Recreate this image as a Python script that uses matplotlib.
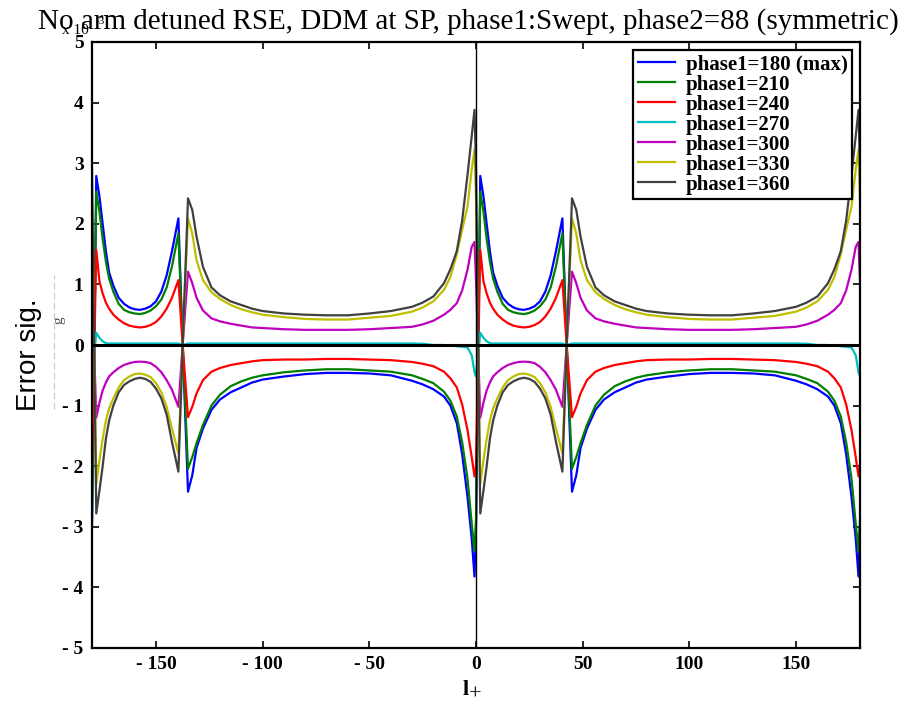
import numpy as np
import matplotlib
matplotlib.use('Agg')
import matplotlib.pyplot as plt

# one period of the sweep (0..180), the same shape repeats over -180..0
x_period = [0, 2, 3.5, 5, 6.5, 8, 10, 12.5, 15, 17.5, 20, 22.5, 25, 27.5, 30,
            32.5, 35, 37.5, 40.5, 42.5, 45, 47, 49, 52, 56, 60, 65, 70, 75, 80,
            90, 100, 110, 120, 130, 140, 150, 155, 160, 165, 168, 171, 173.5,
            176, 178, 179.3]

err_180 = [-3.0, 2.79, 2.45, 2.0, 1.55, 1.2, 0.98, 0.78, 0.68, 0.62, 0.59, 0.58,
           0.60, 0.64, 0.72, 0.88, 1.15, 1.55, 2.09, 0.0, -2.42, -2.15, -1.70,
           -1.38, -1.07, -0.90, -0.78, -0.70, -0.62, -0.57, -0.52, -0.48, -0.46,
           -0.46, -0.47, -0.50, -0.59, -0.65, -0.73, -0.85, -1.0, -1.29, -1.8,
           -2.5, -3.2, -3.82]
err_210 = [-2.89, 2.53, 2.2, 1.75, 1.38, 1.1, 0.88, 0.68, 0.58, 0.54, 0.52, 0.51,
           0.53, 0.57, 0.64, 0.75, 0.95, 1.30, 1.84, 0.0, -2.04, -1.85, -1.62,
           -1.32, -1.0, -0.82, -0.68, -0.60, -0.54, -0.50, -0.45, -0.42, -0.40,
           -0.40, -0.42, -0.44, -0.50, -0.56, -0.63, -0.77, -0.92, -1.18, -1.6,
           -2.2, -2.95, -3.4]
err_240 = [-2.0, 1.57, 1.05, 0.85, 0.70, 0.60, 0.50, 0.42, 0.36, 0.32, 0.30, 0.29,
           0.30, 0.33, 0.38, 0.47, 0.60, 0.78, 1.07, 0.0, -1.19, -1.02, -0.80,
           -0.58, -0.44, -0.38, -0.33, -0.30, -0.27, -0.25, -0.24, -0.24, -0.23,
           -0.23, -0.24, -0.25, -0.28, -0.31, -0.35, -0.44, -0.55, -0.70, -0.98,
           -1.40, -1.85, -2.17]
err_270 = [-0.52, 0.20, 0.12, 0.06, 0.03, 0.025, 0.025, 0.025, 0.025, 0.025, 0.025,
           0.025, 0.025, 0.025, 0.025, 0.025, 0.025, 0.025, 0.025, 0.0, 0.025,
           0.025, 0.025, 0.025, 0.025, 0.025, 0.025, 0.025, 0.025, 0.025, 0.025,
           0.025, 0.025, 0.025, 0.025, 0.025, 0.025, 0.02, 0.0, 0.0, -0.01, -0.02,
           -0.03, -0.04, -0.17, -0.45]
err_300 = [1.07, -1.20, -0.95, -0.75, -0.62, -0.52, -0.45, -0.38, -0.33, -0.30,
           -0.28, -0.275, -0.28, -0.30, -0.36, -0.45, -0.58, -0.74, -1.02, 0.0,
           1.21, 1.02, 0.78, 0.57, 0.44, 0.39, 0.35, 0.32, 0.29, 0.28, 0.26, 0.25,
           0.25, 0.25, 0.26, 0.28, 0.30, 0.34, 0.40, 0.50, 0.58, 0.69, 0.90, 1.24,
           1.62, 1.70]
err_330 = [2.39, -2.30, -1.90, -1.55, -1.25, -1.05, -0.88, -0.70, -0.58, -0.52,
           -0.48, -0.47, -0.49, -0.53, -0.63, -0.78, -1.02, -1.38, -1.79, 0.0,
           2.09, 1.84, 1.40, 1.07, 0.87, 0.76, 0.66, 0.59, 0.54, 0.50, 0.46, 0.43,
           0.42, 0.42, 0.45, 0.48, 0.55, 0.62, 0.72, 0.91, 1.12, 1.50, 1.90, 2.28,
           2.90, 3.22]
err_360 = [2.9, -2.78, -2.4, -2.0, -1.55, -1.25, -1.0, -0.78, -0.66, -0.60, -0.56,
           -0.54, -0.56, -0.61, -0.72, -0.88, -1.15, -1.60, -2.09, 0.0, 2.42, 2.23,
           1.79, 1.29, 0.95, 0.82, 0.72, 0.66, 0.60, 0.56, 0.52, 0.50, 0.49, 0.49,
           0.52, 0.56, 0.63, 0.70, 0.80, 1.02, 1.25, 1.55, 2.05, 2.80, 3.45, 3.88]

labels = ['phase1=180 (max)', 'phase1=210', 'phase1=240', 'phase1=270',
          'phase1=300', 'phase1=330', 'phase1=360']
colors = ['#0000ff', '#008000', '#ff0000', '#00bfbf', '#bf00bf', '#bfbf00', '#404040']
series = [err_180, err_210, err_240, err_270, err_300, err_330, err_360]

xticks = [-150, -100, -50, 0, 50, 100, 150]
yticks = [-5, -4, -3, -2, -1, 0, 1, 2, 3, 4, 5]

serif = 'Liberation Serif'

fig = plt.figure(figsize=(9.13, 7.06), dpi=100)
ax = fig.add_axes([92/913, 1-648/706, 768/913, 606/706])

xp = np.array(x_period)
x_full = np.concatenate([xp - 180, xp, [180]])
for vals, c, lab in zip(series, colors, labels):
    v = np.array(vals)
    ax.plot(x_full, np.concatenate([v, v, [v[0]]]), color=c, lw=1.6, label=lab)

ax.axhline(0, color='k', lw=2.2, zorder=3)
ax.axvline(0, color='k', lw=1.0, zorder=3)

ax.set_xlim(-180, 180)
ax.set_ylim(-5, 5)
ax.set_xticks(xticks)
ax.set_xticklabels([str(t).replace('-', '- ') for t in xticks],
                   fontfamily=serif, fontweight='bold', fontsize=14)
ax.set_yticks(yticks)
ax.set_yticklabels([str(t).replace('-', '- ') for t in yticks],
                   fontfamily=serif, fontweight='bold', fontsize=14)
ax.tick_params(direction='in', length=5, width=1.2, top=True, right=True, pad=6)
for s in ax.spines.values():
    s.set_linewidth(1.6)

leg = ax.legend(loc='upper right', bbox_to_anchor=(0.989, 0.986), borderaxespad=0,
                prop={'family': serif, 'weight': 'bold', 'size': 15},
                handlelength=1.8, handletextpad=0.5, labelspacing=0.0,
                fancybox=False, framealpha=1, borderpad=0.2)
leg.get_frame().set_edgecolor('k')
leg.get_frame().set_linewidth(1.6)

fig.text(0.513, 1 - 29/706, 'No arm detuned RSE, DDM at SP, phase1:Swept, phase2=88 (symmetric)',
         ha='center', va='baseline', fontfamily=serif, fontsize=21)
fig.text(62/913, 1 - 34/706, 'x 10', ha='left', va='baseline', fontfamily=serif, fontsize=11)
fig.text(96/913, 1 - 24/706, '-3', ha='left', va='baseline', fontfamily=serif, fontsize=8)

fig.text(0.032, 0.497, 'Error sig.', rotation=90, ha='center', va='center',
         fontfamily='Liberation Sans', fontsize=20)
fig.add_artist(plt.Line2D([0.059, 0.059], [0.42, 0.61], color='#c8c8c8', lw=0.8,
                          ls=(0, (6, 3))))
fig.text(0.064, 0.547, 'g', rotation=90, ha='center', va='center',
         fontfamily=serif, fontsize=11, color='#505050')

fig.text(0.510, 0.008, 'l', ha='center', va='bottom', fontfamily=serif,
         fontweight='bold', fontsize=16)
fig.text(0.520, 0.002, '+', ha='center', va='bottom', fontfamily=serif, fontsize=16)

fig.savefig('out.png', dpi=100)
